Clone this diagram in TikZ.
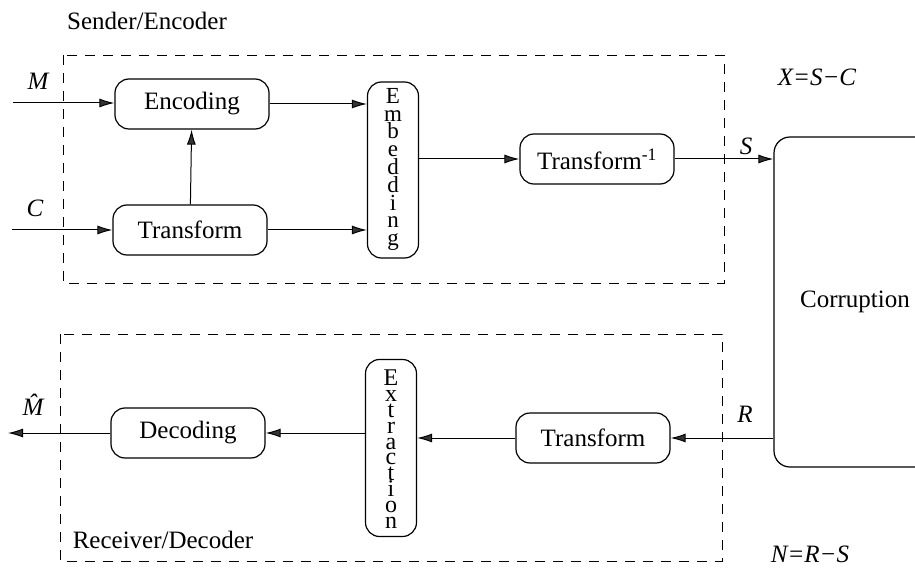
\documentclass[tikz,border=0pt]{standalone}
\usepackage{fontspec}
\setmainfont{Liberation Serif}
\usetikzlibrary{arrows.meta}
\tikzset{
  blk/.style={draw, line width=1.2pt, rounded corners=14pt, inner sep=0pt,
    minimum width=154pt, minimum height=50pt, font=\fontsize{25}{27}\selectfont},
  tall/.style={draw, line width=1.2pt, rounded corners=14pt, inner sep=0pt,
    minimum width=51pt, minimum height=#1},
  stack/.style={inner sep=0pt, anchor=north, align=center},
  frame/.style={draw, line width=0.9pt, dash pattern=on 10pt off 8pt},
  flow/.style={line width=1pt, -{Latex[length=15pt,width=9pt,fill=black!80]}},
  lbl/.style={inner sep=0pt, font=\fontsize{25}{27}\selectfont},
  var/.style={lbl, font=\fontsize{25}{27}\selectfont\itshape}
}
\newcommand{\stackfont}[2]{\fontsize{#1}{#2}\selectfont\lineskiplimit=-100pt\relax}
\begin{document}
\begin{tikzpicture}[x=1pt, y=-1pt]
\clip (0,0) rectangle (915,569);
\fill[white] (0,0) rectangle (915,569);

% group frames
\draw[frame] (63,55) rectangle (724,283);
\draw[frame] (60,334) rectangle (722,561);
\node[lbl] (sendlbl) at (147,21) {Sender/Encoder};
\node[lbl] (recvlbl) at (163,540) {Receiver/Decoder};

% sender blocks
\node[blk] (enc) at (192,104) {Encoding};
\node[blk] (trf) at (190,230) {Transform};
\node[tall=176pt] (emb) at (393,170) {};
\node[stack, font=\stackfont{23}{17.8}] (embtxt) at (393,88)
  {E\\m\\b\\e\\d\\d\\i\\n\\g};
\node[blk] (itrf) at (597,159) {Transform\textsuperscript{-1}};

% channel
\node[draw, line width=1.2pt, rounded corners=16pt, minimum width=162pt,
  minimum height=330pt, inner sep=0pt, font=\fontsize{25}{27}\selectfont]
  (cor) at (855,302) {Corruption};

% receiver blocks
\node[blk] (rtrf) at (593,438) {Transform};
\node[tall=177pt] (ext) at (391,448) {};
\node[stack, font=\stackfont{24}{15.8}] (exttxt) at (391,370)
  {E\\x\\t\\r\\a\\c\\t\\i\\o\\n};
\node[blk] (dec) at (188,433) {Decoding};

% free ends
\coordinate (min) at (13,103);
\coordinate (cin) at (12,230);
\coordinate (mout) at (8,433);

% connectors
\draw[flow] (min) -- (enc.west |- min);
\draw[flow] (cin) -- (trf.west |- cin);
\draw[flow] (trf) -- (enc);
\draw[flow] (enc.east) -- (emb.west |- enc.east);
\draw[flow] (trf.east) -- (emb.west |- trf.east);
\draw[flow] (emb.east |- itrf.west) -- (itrf.west);
\draw[flow] (itrf.east) -- (cor.west |- itrf.east);
\draw[flow] (cor.west |- rtrf.east) -- (rtrf.east);
\draw[flow] (rtrf.west) -- (ext.east |- rtrf.west);
\draw[flow] (ext.west |- dec.east) -- (dec.east);
\draw[flow] (dec.west) -- (mout);

% signal labels
\node[var] (mlbl) at (38,81) {M};
\node[var] (clbl) at (35,208) {C};
\node[var] (mhat) at (33,405) {\^M};
\node[var] (slbl) at (746,146) {S};
\node[var] (rlbl) at (745,414) {R};
\node[var] (xeq) at (817,77) {X=S−C};
\node[var] (neq) at (810,554) {N=R−S};
\end{tikzpicture}
\end{document}
